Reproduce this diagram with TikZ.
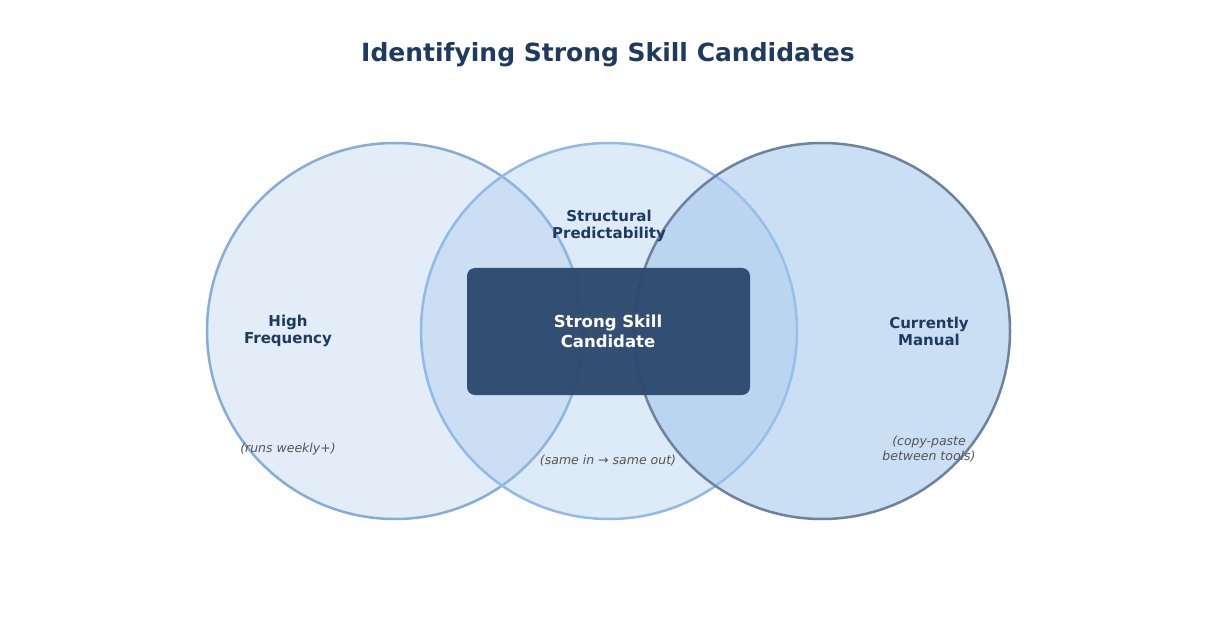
\documentclass[tikz,border=0pt]{standalone}
\usepackage{fontspec}
\setmainfont{DejaVu Sans}
\definecolor{navy}{HTML}{1F3A5F}
\definecolor{boxc}{HTML}{2E4A6E}
\definecolor{grayt}{HTML}{555555}
\tikzset{lab/.style={font=\fontsize{15}{17}\selectfont\bfseries,text=navy,align=center},
sub/.style={font=\fontsize{12.5}{15}\selectfont\itshape,text=grayt,align=center}}
\begin{document}
\begin{tikzpicture}[x=1pt,y=-1pt]
\useasboundingbox (0,0) rectangle (1217,617);
\fill[white] (0,0) rectangle (1217,617);
\node[font=\fontsize{25}{30}\selectfont\bfseries,text=navy] (t) at (608,55) {Identifying Strong Skill Candidates};
\filldraw[fill={rgb,255:red,227;green,237;blue,248},draw={rgb,255:red,133;green,173;blue,214},line width=2.5pt] (395,331) circle (188);
\filldraw[fill={rgb,255:red,160;green,196;blue,235},fill opacity=0.35,draw={rgb,255:red,144;green,186;blue,232},line width=2.5pt] (609,331) circle (188);
\filldraw[fill={rgb,255:red,160;green,196;blue,235},fill opacity=0.55,draw={rgb,255:red,110;green,130;blue,158},line width=2.5pt] (822,331) circle (188);
\fill[boxc,fill opacity=0.97,rounded corners=8pt] (467,268) rectangle (750,395);
\node[font=\fontsize{16.5}{20}\selectfont\bfseries,text=white,align=center] (c) at (608,331) {Strong Skill\\Candidate};
\node[lab] (a) at (288,331) {High\\Frequency};
\node[lab] (b) at (609,226) {Structural\\Predictability};
\node[lab] (d) at (929,331) {Currently\\Manual};
\node[sub] (sa) at (288,449) {(runs weekly+)};
\node[sub] (sb) at (608,461) {(same in → same out)};
\node[sub] (sd) at (929,449) {(copy-paste\\between tools)};
\end{tikzpicture}
\end{document}
